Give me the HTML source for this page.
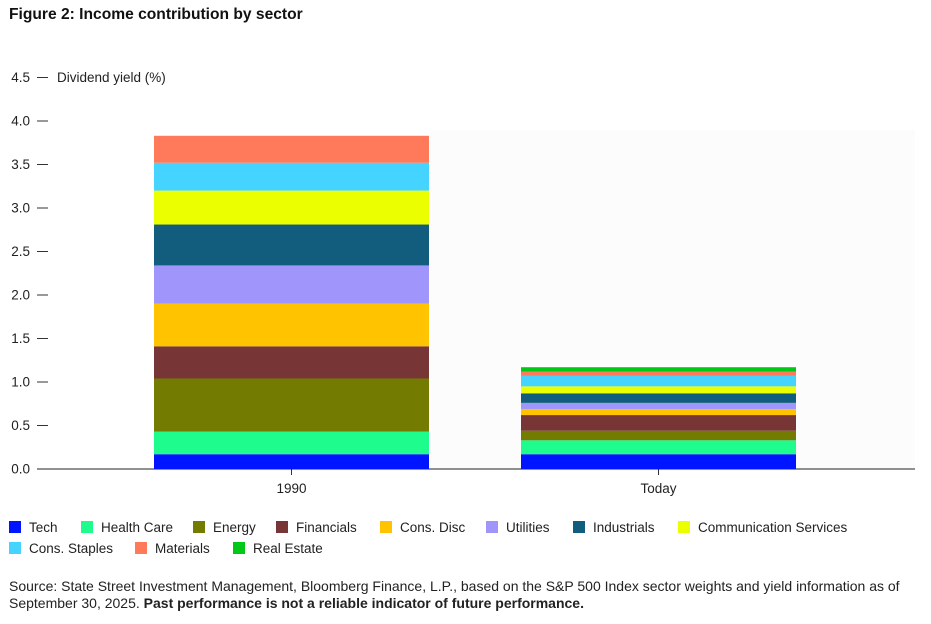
<!DOCTYPE html>
<html><head><meta charset="utf-8"><style>
body{margin:0;background:#fff;font-family:"Liberation Sans",sans-serif;}
svg text{font-family:"Liberation Sans",sans-serif;}
</style></head><body>
<svg width="931" height="619">
<text x="9" y="19" font-size="15.6" font-weight="bold" fill="#111">Figure 2: Income contribution by sector</text>
<g id="axes"></g><g id="bars"></g><g id="legend"></g>
<text x="9" y="591" font-size="14" fill="#222">Source: State Street Investment Management, Bloomberg Finance, L.P., based on the S&amp;P 500 Index sector weights and yield information as of</text>
<text x="9" y="608" font-size="14" fill="#222">September 30, 2025. <tspan font-weight="bold">Past performance is not a reliable indicator of future performance.</tspan></text>
</svg>
<script>
const categories=["1990","Today"];
const sectors=["Tech","Health Care","Energy","Financials","Cons. Disc","Utilities","Industrials","Communication Services","Cons. Staples","Materials","Real Estate"];
const colors=["#0015ff","#1dfc8d","#737b00","#773535","#ffc300","#a095fb","#125d7e","#ebff00","#45d3ff","#ff7a5a","#00c817"];
const values1990=[0.17,0.26,0.61,0.37,0.49,0.44,0.47,0.39,0.32,0.31,0];
const valuesToday=[0.17,0.16,0.11,0.18,0.07,0.07,0.11,0.08,0.12,0.05,0.05];
const yTicks=[0,0.5,1.0,1.5,2.0,2.5,3.0,3.5,4.0,4.5];
const series=[values1990,valuesToday];
const NS="http://www.w3.org/2000/svg";
const y=v=>469-v*87;
const xc=[291.5,658.5];const bw=275;
function mk(t,a,p){const e=document.createElementNS(NS,t);for(const k in a)e.setAttribute(k,a[k]);p.appendChild(e);return e;}
const ax=document.getElementById('axes');
const bg=mk('rect',{x:430,y:130,width:485,height:339,fill:'#fcfcfc'},ax);


yTicks.forEach(t=>{
 const l=mk('line',{x1:37,x2:48,y1:y(t),y2:y(t),stroke:'#333'},ax);
 
 
 const tx=mk('text',{x:30,y:y(t)+4.5,'font-size':13.5,'text-anchor':'end',fill:'#222'},ax);
 tx.textContent=t.toFixed(1);
 
 
});
const yl=mk('text',{x:57,y:y(4.5)+4.5,'font-size':13.5,fill:'#222'},ax);
yl.textContent='Dividend yield (%)';


const bars=document.getElementById('bars');
series.forEach((vals,i)=>{
 let cum=0;
 vals.forEach((v,j)=>{
  if(v<=0)return;
  const r=mk('rect',{x:xc[i]-bw/2,y:y(cum+v),width:bw,height:v*87,fill:colors[j]},bars);
  
  
  cum+=v;
 });
 const tk=mk('line',{x1:xc[i],x2:xc[i],y1:469,y2:475,stroke:'#333'},ax);
 
 
 const lb=mk('text',{x:xc[i],y:493,'font-size':13.5,'text-anchor':'middle',fill:'#222'},ax);
 lb.textContent=categories[i];
 
 
});
const base=mk('line',{x1:37,x2:915,y1:469,y2:469,stroke:'#222'},ax);


const lg=document.getElementById('legend');
const lx=[9,81,193,276,380,486,573,678,9,135,233];
const ly=[527,527,527,527,527,527,527,527,548,548,548];
sectors.forEach((s,j)=>{
 const g=mk('g',{},lg);
 
 
 mk('rect',{x:lx[j],y:ly[j]-6,width:12,height:12,fill:colors[j]},g);
 const t=mk('text',{x:lx[j]+20,y:ly[j]+5,'font-size':13.5,fill:'#222'},g);
 t.textContent=s;
});
</script>
</body></html>
